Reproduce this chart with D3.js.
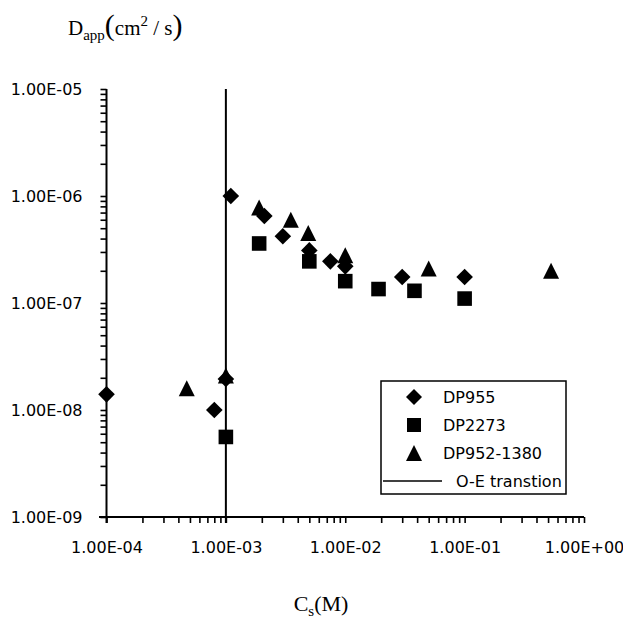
<!DOCTYPE html>
<html>
<head>
<meta charset="utf-8">
<script src="https://cdn.jsdelivr.net/npm/d3@7"></script>
<style>
  body { margin: 0; background: #fff; }
  text { fill: #000; }
</style>
</head>
<body>
<script>
// series values (salt concentration Cs in M, apparent diffusion coeff. in cm2/s)
var dp955Cs = [1e-4, 8e-4, 1e-3, 1.1e-3, 2.1e-3, 3e-3, 5e-3, 7.5e-3, 1e-2, 3e-2, 1e-1];
var dp955D  = [1.4e-8, 1.0e-8, 1.95e-8, 1.0e-6, 6.5e-7, 4.2e-7, 3.1e-7, 2.45e-7, 2.2e-7, 1.75e-7, 1.75e-7];

var dp2273Cs = [1e-3, 1.9e-3, 5e-3, 1e-2, 1.9e-2, 3.8e-2, 1e-1];
var dp2273D  = [5.6e-9, 3.6e-7, 2.45e-7, 1.6e-7, 1.35e-7, 1.3e-7, 1.1e-7];

var dp952Cs = [4.7e-4, 1e-3, 1.9e-3, 3.5e-3, 4.9e-3, 1e-2, 5e-2, 0.53];
var dp952D  = [1.6e-8, 2.1e-8, 7.8e-7, 6.0e-7, 4.5e-7, 2.8e-7, 2.1e-7, 2.0e-7];

var transitionCs = 1e-3;

var seriesNames = ['DP955', 'DP2273', 'DP952-1380', 'O-E transtion'];

// page
var W = 623, H = 618;
var svg = d3.select('body').append('svg')
    .attr('width', W)
    .attr('height', H);

// scales
var x = d3.scaleLog().domain([1e-4, 1]).range([106.5, 584]);
var y = d3.scaleLog().domain([1e-9, 1e-5]).range([517, 89]);

// label like 1.00E-04
function sci(v) {
  var s = v.toExponential(2).toUpperCase().split('E');
  var e = +s[1];
  var sign = e < 0 ? '-' : '+';
  var ee = Math.abs(e);
  return s[0] + 'E' + sign + (ee < 10 ? '0' : '') + ee;
}

// minor + major tick values
function logTicks(lo, hi) {
  var out = [];
  for (var e = lo; e < hi; e++) {
    for (var k = 1; k <= 9; k++) out.push(k * Math.pow(10, e));
  }
  out.push(Math.pow(10, hi));
  return out;
}
function isMajor(v) {
  var l = Math.log10(v);
  return Math.abs(l - Math.round(l)) < 1e-9;
}

var tickFont = '"DejaVu Sans", sans-serif';

// x axis
var xAxis = d3.axisBottom(x)
    .tickValues(logTicks(-4, 0))
    .tickSize(6)
    .tickFormat(function(d) { return isMajor(d) ? sci(d) : ''; });

var gx = svg.append('g')
    .attr('transform', 'translate(0,' + y(1e-9) + ')')
    .call(xAxis);
gx.select('.domain').attr('d', 'M99,0H584').attr('stroke', '#000').attr('stroke-width', 2);
gx.selectAll('.tick line').attr('stroke', '#000').attr('stroke-width', 1.6);
gx.selectAll('.tick text')
    .attr('y', 25)
    .style('font-family', tickFont)
    .style('font-size', '16px')
    .attr('fill', '#000');

// y axis
var yAxis = d3.axisLeft(y)
    .tickValues(logTicks(-9, -5))
    .tickSize(6)
    .tickFormat(function(d) { return isMajor(d) ? sci(d) : ''; });

var gy = svg.append('g')
    .attr('transform', 'translate(' + x(1e-4) + ',0)')
    .call(yAxis);
gy.select('.domain').attr('d', 'M0,' + y(1e-5) + 'V' + (y(1e-9) + 6)).attr('stroke', '#000').attr('stroke-width', 2);
gy.selectAll('.tick line').attr('stroke', '#000').attr('stroke-width', 1.6);
gy.selectAll('.tick text')
    .attr('x', -24)
    .style('font-family', tickFont)
    .style('font-size', '16px')
    .attr('fill', '#000');

// O-E transition line
svg.append('line')
    .attr('x1', x(transitionCs)).attr('x2', x(transitionCs))
    .attr('y1', y(1e-5)).attr('y2', y(1e-9) + 6)
    .attr('stroke', '#000')
    .attr('stroke-width', 2);

// marker shapes
function diamond(s) { return 'M0,' + (-s) + 'L' + s + ',0L0,' + s + 'L' + (-s) + ',0Z'; }
function square(s) { return 'M' + (-s) + ',' + (-s) + 'H' + s + 'V' + s + 'H' + (-s) + 'Z'; }
function triangle(s) { return 'M0,' + (-s) + 'L' + s + ',' + s + 'H' + (-s) + 'Z'; }

function plotSeries(cs, d, shape) {
  svg.append('g').selectAll('path')
      .data(d3.zip(cs, d))
    .enter().append('path')
      .attr('transform', function(p) { return 'translate(' + x(p[0]) + ',' + y(p[1]) + ')'; })
      .attr('d', shape)
      .attr('fill', '#000');
}

plotSeries(dp955Cs, dp955D, diamond(8.3));
plotSeries(dp2273Cs, dp2273D, square(7.3));
plotSeries(dp952Cs, dp952D, triangle(8));

// legend
var lg = svg.append('g');
lg.append('rect')
    .attr('x', 381).attr('y', 381)
    .attr('width', 185).attr('height', 113)
    .attr('fill', '#fff')
    .attr('stroke', '#000')
    .attr('stroke-width', 1.5);

var legendShapes = [diamond(8), square(7), triangle(8)];
seriesNames.forEach(function(name, i) {
  var cy = 397 + i * 28;
  if (i < 3) {
    lg.append('path')
        .attr('transform', 'translate(414,' + cy + ')')
        .attr('d', legendShapes[i])
        .attr('fill', '#000');
    lg.append('text')
        .attr('x', 443).attr('y', cy + 6)
        .style('font-family', tickFont)
        .style('font-size', '16px')
        .text(name);
  } else {
    lg.append('line')
        .attr('x1', 383).attr('x2', 442)
        .attr('y1', cy).attr('y2', cy)
        .attr('stroke', '#000')
        .attr('stroke-width', 1.5);
    lg.append('text')
        .attr('x', 456).attr('y', cy + 6)
        .style('font-family', tickFont)
        .style('font-size', '16px')
        .text(name);
  }
});

// axis titles
var serif = '"Liberation Serif", "Times New Roman", serif';
var yt = svg.append('text')
    .attr('x', 68).attr('y', 35)
    .style('font-family', serif)
    .style('font-size', '21px');
yt.append('tspan').text('D');
yt.append('tspan').attr('dy', 5).style('font-size', '15px').text('app');
yt.append('tspan').attr('dy', -5).style('font-size', '30px').text('(');
yt.append('tspan').text('cm');
yt.append('tspan').attr('dy', -9).style('font-size', '15px').text('2');
yt.append('tspan').attr('dy', 9).text(' / s');
yt.append('tspan').style('font-size', '30px').text(')');

var xt = svg.append('text')
    .attr('x', 321).attr('y', 611)
    .attr('text-anchor', 'middle')
    .style('font-family', serif)
    .style('font-size', '22px');
xt.append('tspan').text('C');
xt.append('tspan').attr('dy', 5).style('font-size', '15px').text('s');
xt.append('tspan').attr('dy', -5).text('(M)');
</script>
</body>
</html>
